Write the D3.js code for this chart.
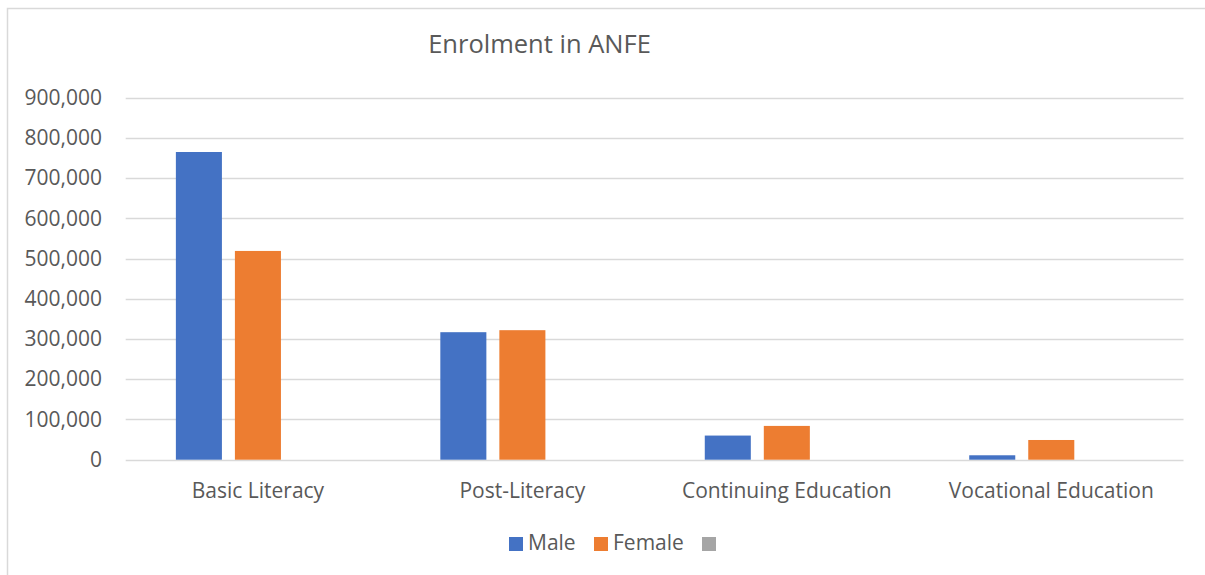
<!DOCTYPE html>
<html>
<head>
<meta charset="utf-8">
<title>Enrolment in ANFE</title>
<script src="https://d3js.org/d3.v7.min.js"></script>
<style>
  body { margin: 0; background: #fff; }
  text { font-family: "Open Sans", sans-serif; fill: #595959; }
</style>
</head>
<body>
<svg id="chart" width="1205" height="575"></svg>
<script>
var categories = ["Basic Literacy", "Post-Literacy", "Continuing Education", "Vocational Education"];
var seriesNames = ["Male", "Female", ""];
var male = [765000, 317000, 60000, 11000];
var female = [519000, 322000, 84000, 49000];
var blank = [0, 0, 0, 0];
var yTicks = [0, 100000, 200000, 300000, 400000, 500000, 600000, 700000, 800000, 900000];

var colors = ["#4472C4", "#ED7D31", "#A5A5A5"];
var values = [male, female, blank];

var svg = d3.select("#chart");

// chart frame
svg.append("rect")
    .attr("x", 7.5).attr("y", 8.5)
    .attr("width", 1220).attr("height", 600)
    .attr("fill", "none")
    .attr("stroke", "#d9d9d9")
    .attr("stroke-width", 1.5);

var x0 = d3.scaleBand()
    .domain(categories)
    .range([125.7, 1183.5]);

var x1 = d3.scaleBand()
    .domain(d3.range(seriesNames.length))
    .range([0, x0.bandwidth()])
    .paddingInner(0.22)
    .paddingOuter(0.85);

var y = d3.scaleLinear()
    .domain([0, 900000])
    .range([459.7, 97.7]);

// gridlines
svg.append("g")
  .selectAll("line")
  .data(yTicks)
  .enter().append("line")
    .attr("x1", 125.7).attr("x2", 1183.5)
    .attr("y1", function(d) { return Math.round(y(d)) + 0.5; })
    .attr("y2", function(d) { return Math.round(y(d)) + 0.5; })
    .attr("stroke", "#d9d9d9")
    .attr("stroke-width", 1.5);

// y axis labels
var yAxis = svg.append("g")
    .attr("transform", "translate(125.7,0)")
    .call(d3.axisLeft(y).tickValues(yTicks).tickSize(0).tickPadding(23.7)
      .tickFormat(function(d) { return d === 0 ? "0" : d3.format(",")(d); }));
yAxis.select(".domain").remove();
yAxis.selectAll("text")
    .style("font-family", "'Open Sans', sans-serif")
    .style("font-size", "21px")
    .attr("fill", "#595959");

// bars
var groups = svg.append("g")
  .selectAll("g")
  .data(categories)
  .enter().append("g")
    .attr("transform", function(d) { return "translate(" + x0(d) + ",0)"; });

groups.selectAll("rect")
  .data(function(d, i) { return values.map(function(v, s) { return {s: s, v: v[i]}; }); })
  .enter().append("rect")
    .attr("x", function(d) { return x1(d.s); })
    .attr("width", x1.bandwidth())
    .attr("y", function(d) { return y(d.v); })
    .attr("height", function(d) { return y(0) - y(d.v); })
    .attr("fill", function(d) { return colors[d.s]; });

// x axis labels
var xAxis = svg.append("g")
    .attr("transform", "translate(0,459.7)")
    .call(d3.axisBottom(x0).tickSize(0).tickPadding(23.4));
xAxis.select(".domain").remove();
xAxis.selectAll("text")
    .style("font-family", "'Open Sans', sans-serif")
    .style("font-size", "21px")
    .attr("fill", "#595959");

// title
svg.append("text")
    .attr("x", 539.5).attr("y", 53)
    .attr("text-anchor", "middle")
    .style("font-size", "25.5px")
    .text("Enrolment in ANFE");

// legend
var legendX = [509, 594, 702];
var legend = svg.append("g")
  .selectAll("g")
  .data(seriesNames)
  .enter().append("g")
    .attr("transform", function(d, i) { return "translate(" + legendX[i] + ",537)"; });
legend.append("rect")
    .attr("width", 14).attr("height", 14)
    .attr("fill", function(d, i) { return colors[i]; });
legend.append("text")
    .attr("x", 19).attr("y", 13)
    .style("font-size", "21px")
    .text(function(d) { return d; });
</script>
</body>
</html>
